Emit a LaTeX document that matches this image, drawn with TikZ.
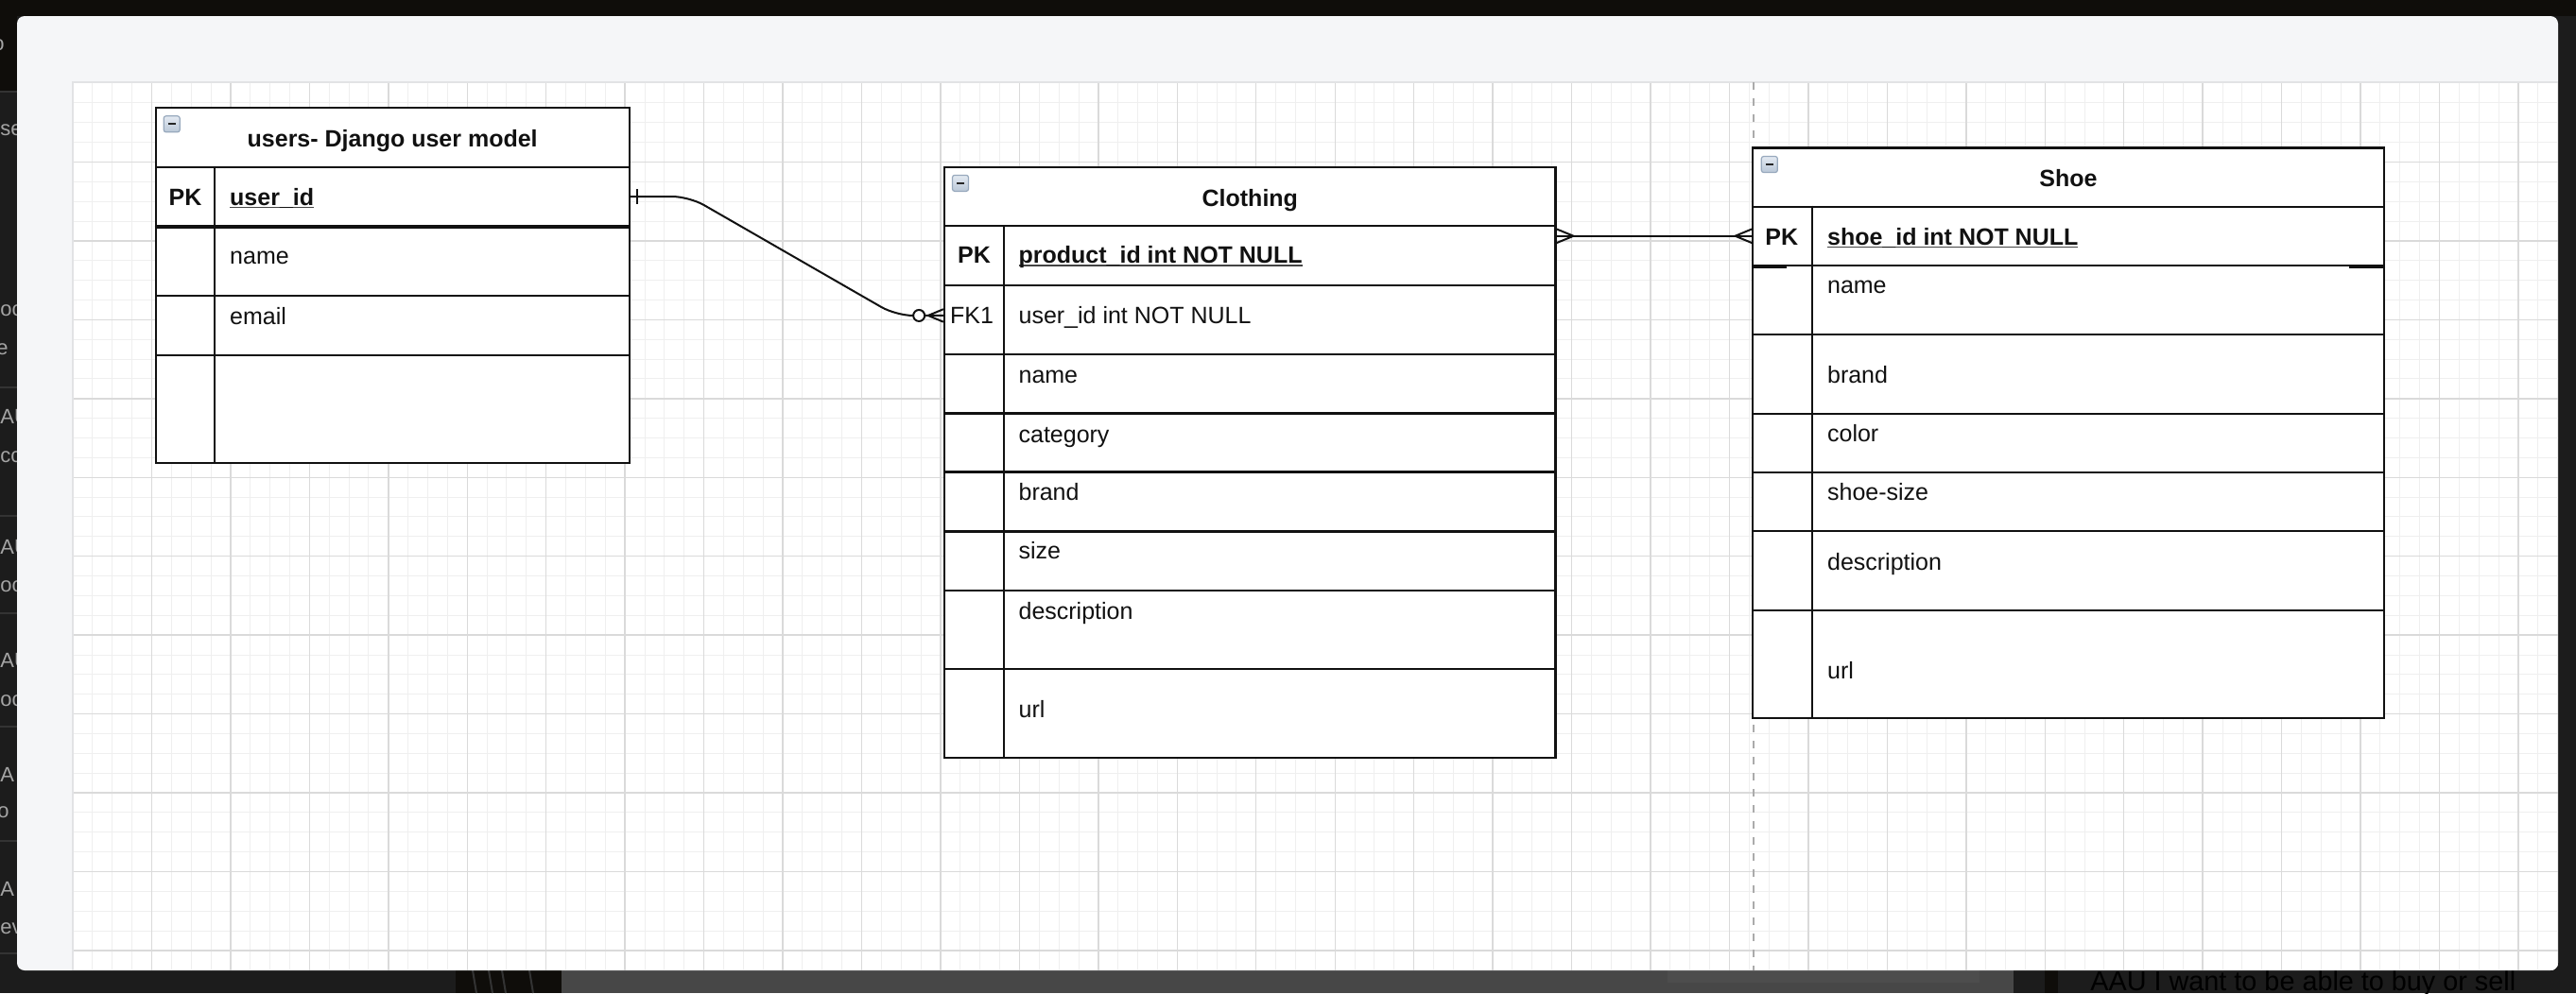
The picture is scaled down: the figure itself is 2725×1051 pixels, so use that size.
\documentclass[tikz,border=0pt]{standalone}
\usepackage{fontspec}
\setmainfont{Liberation Sans}
\usetikzlibrary{fit}
\definecolor{topdark}{HTML}{0F0D0A}
\definecolor{sidedark}{HTML}{1C1C1C}
\definecolor{sepgray}{HTML}{333333}
\definecolor{panelbg}{HTML}{F5F6F8}
\definecolor{gridmaj}{HTML}{DADADA}
\definecolor{gridmin}{HTML}{EFEFEF}
\definecolor{gridedgec}{HTML}{E2E3E5}
\definecolor{bargray}{HTML}{474747}
\definecolor{barlight}{HTML}{4D4D4D}
\definecolor{fragtxt}{HTML}{A4A4A4}
\definecolor{iconedge}{HTML}{98A9BD}
\definecolor{icontop}{HTML}{E4EAF2}
\definecolor{iconbot}{HTML}{B9C7D7}
\definecolor{pagebrk}{HTML}{ABABAB}
\definecolor{inkc}{HTML}{111111}
\definecolor{ulgray}{HTML}{444444}
\newcommand{\fs}{\fontsize{12.5}{15}\selectfont}
\newcommand{\ulbox}[1]{\setbox0\hbox{#1}\rlap{\textcolor{ulgray}{\rule[-1.6pt]{\wd0}{0.75pt}}}\box0}
\newcommand{\erow}[5]{\node[tblrow, fit={(#2,#3) (#4,#5)}] (#1) {};}
\tikzset{
  tblrow/.style={draw=inkc, line width=1.15pt, fill=white, inner sep=0pt},
  tblline/.style={draw=inkc, line width=1.15pt},
  thickmark/.style={draw=inkc, line width=1.7pt},
  ttl/.style={anchor=base, inner sep=0pt, font=\fs\bfseries, text=inkc},
  keyt/.style={anchor=base, inner sep=0pt, font=\fs\bfseries, text=inkc},
  fkt/.style={anchor=base, inner sep=0pt, font=\fs, text=inkc},
  fld/.style={anchor=base west, inner sep=0pt, font=\fs, text=inkc},
  fldb/.style={anchor=base west, inner sep=0pt, font=\fs\bfseries, text=inkc},
  conn/.style={draw=inkc, line width=1pt},
  gridminor/.style={draw=gridmin, line width=0.5pt},
  gridmajor/.style={draw=gridmaj, line width=0.7pt},
  gridedge/.style={draw=gridedgec, line width=0.8pt},
  pagebreak/.style={draw=pagebrk, line width=0.75pt, dash pattern=on 4pt off 4.5pt},
  sepline/.style={draw=sepgray, line width=0.6pt},
  frag/.style={anchor=base west, inner sep=0pt, font=\fontsize{11}{13}\selectfont, text=fragtxt},
  story/.style={anchor=base west, inner sep=0pt, font=\fontsize{14.4}{17}\selectfont, text=black},
  colicon/.pic={
    \draw[draw=iconedge, line width=0.6pt, rounded corners=1.2pt, top color=icontop, bottom color=iconbot] (0,0) rectangle (17,17);
    \draw[draw=black!85, line width=1pt] (4.5,8.5) -- (12.5,8.5);
  }
}
\begin{document}
\begin{tikzpicture}[x=0.5pt,y=-0.5pt]
\clip (0,0) rectangle (2725,1051);
% ---------- surrounding screenshot background ----------
\fill[sidedark] (0,0) rectangle (2725,1051);
\fill[topdark] (0,0) rectangle (2725,17);
\fill[topdark] (0,0) rectangle (18,97);
\foreach \yy in {97,410,546,649,769,890,1009} \draw[sepline] (0,\yy) -- (18,\yy);
\node[frag] (f0) at (-8,53) {o};
\node[frag] (f1) at (0,143) {se};
\node[frag] (f2) at (0,334) {oc};
\node[frag] (f3) at (-4,375) {e};
\node[frag] (f4) at (0,448) {AU};
\node[frag] (f5) at (0,489) {cc};
\node[frag] (f6) at (0,586) {AU};
\node[frag] (f7) at (0,626) {oc};
\node[frag] (f8) at (0,706) {AU};
\node[frag] (f9) at (0,747) {oc};
\node[frag] (f10) at (0,827) {A I};
\node[frag] (f11) at (-3,865) {o};
\node[frag] (f12) at (0,948) {A I};
\node[frag] (f13) at (0,988) {ev};
% bottom strip
\fill[topdark] (482,1027) rectangle (594,1051);
\foreach \xx in {500,517,531,560} \draw[draw=sepgray, line width=1pt] (\xx,1027) -- (\xx+4,1051);
\fill[bargray] (594,1027) rectangle (2130,1051);
\fill[barlight] (1764,1027) rectangle (2094,1040);
\fill[topdark] (2163,1027) rectangle (2177,1051);
\node[story] (storytext) at (2211,1048) {AAU I want to be able to buy or sell};
% ---------- panel ----------
\fill[panelbg, rounded corners=4pt] (18,17) rectangle (2706,1027);
\begin{scope}
  \clip[rounded corners=4pt] (18,17) rectangle (2706,1027);
  \fill[white] (77,87) rectangle (2706,1027);
  \foreach \i in {1,...,126} \draw[gridminor] (77+\i*20.8625,87) -- (77+\i*20.8625,1027);
  \foreach \j in {1,...,45} \draw[gridminor] (77,88+\j*20.8625) -- (2706,88+\j*20.8625);
  \foreach \i in {1,...,31} \draw[gridmajor] (77+\i*83.45,87) -- (77+\i*83.45,1027);
  \foreach \j in {1,...,11} \draw[gridmajor] (77,88+\j*83.45) -- (2706,88+\j*83.45);
  \draw[gridedge] (77,1027) -- (77,87) -- (2706,87);
  \draw[pagebreak] (1855,87) -- (1855,1027);
\end{scope}
% ---------- users table ----------
\erow{uhead}{164.7}{114.3}{665.8}{176.7}
\erow{upk}{164.7}{176.7}{665.8}{239.3}
\erow{uname}{164.7}{239.3}{665.8}{312.7}
\erow{uemail}{164.7}{312.7}{665.8}{375.7}
\erow{uempty}{164.7}{375.7}{665.8}{490}
\draw[tblline] (upk.north west -| 227.3,0) -- (uempty.south west -| 227.3,0);
\draw[thickmark] (upk.south west) -- (upk.south east);
\pic at (173.2,122.8) {colicon};
\node[ttl] (uttl) at (415.2,155.7) {users- Django user model};
\node[keyt] (upkl) at (196,217) {PK};
\node[fldb] (upkf) at (242.8,217) {\ulbox{user\_id}};
\node[fld] (unmf) at (242.8,279.7) {name};
\node[fld] (uemf) at (242.8,343) {email};
% ---------- clothing table ----------
\erow{chead}{999}{176.9}{1645.6}{239.3}
\erow{cpk}{999}{239.3}{1645.6}{301.8}
\erow{cfk}{999}{301.8}{1645.6}{375.1}
\erow{cname}{999}{375.1}{1645.6}{437.5}
\erow{ccat}{999}{437.5}{1645.6}{499.6}
\erow{cbrand}{999}{499.6}{1645.6}{562.5}
\erow{csize}{999}{562.5}{1645.6}{625.3}
\erow{cdesc}{999}{625.3}{1645.6}{708.2}
\erow{curl}{999}{708.2}{1645.6}{801.9}
\draw[tblline] (cpk.north west -| 1062.1,0) -- (curl.south west -| 1062.1,0);
\pic at (1007.5,185.4) {colicon};
\node[ttl] (cttl) at (1322.3,218.4) {Clothing};
\node[keyt] (cpkl) at (1030.5,278.6) {PK};
\node[fldb] (cpkf) at (1077.2,278.6) {\ulbox{product\_id int NOT NULL}};
\node[fkt] (cfkl) at (1028,342.3) {FK1};
\node[fld] (cfkf) at (1077.2,342.3) {user\_id int NOT NULL};
\node[fld] (cnmf) at (1077.2,405.2) {name};
\node[fld] (ccatf) at (1077.2,468) {category};
\node[fld] (cbrf) at (1077.2,529.7) {brand};
\node[fld] (csizf) at (1077.2,591.7) {size};
\node[fld] (cdesf) at (1077.2,655.5) {description};
\node[fld] (curlf) at (1077.2,759.5) {url};
% ---------- shoe table ----------
\erow{shead}{1854.3}{156.5}{2522}{218.8}
\erow{spk}{1854.3}{218.8}{2522}{280.7}
\erow{sname}{1854.3}{280.7}{2522}{353.9}
\erow{sbrand}{1854.3}{353.9}{2522}{437.7}
\erow{scolor}{1854.3}{437.7}{2522}{500}
\erow{ssize}{1854.3}{500}{2522}{562.3}
\erow{sdesc}{1854.3}{562.3}{2522}{646}
\erow{surl}{1854.3}{646}{2522}{760.1}
\draw[tblline] (spk.north west -| 1916.8,0) -- (surl.south west -| 1916.8,0);
\draw[thickmark] (spk.south west) -- ++(37,0);
\draw[thickmark] (spk.south east) -- ++(-38,0);
\pic at (1863.3,165.5) {colicon};
\node[ttl] (sttl) at (2188,197) {Shoe};
\node[keyt] (spkl) at (1884.7,259.2) {PK};
\node[fldb] (spkf) at (1932.7,259.2) {\ulbox{shoe\_id int NOT NULL}};
\node[fld] (snmf) at (1932.7,310.6) {name};
\node[fld] (sbrf) at (1932.7,405.3) {brand};
\node[fld] (scolf) at (1932.7,467.6) {color};
\node[fld] (ssizf) at (1932.7,529.4) {shoe-size};
\node[fld] (sdesf) at (1932.7,603.1) {description};
\node[fld] (surlf) at (1932.7,718) {url};
% ---------- connector users -> clothing (one to zero-or-many) ----------
\coordinate (cfkend) at ([yshift=2.25pt]cfk.west);
\coordinate (bendA) at (729,208);
\coordinate (bendB) at (948,334);
\draw[conn, rounded corners=9pt] (upk.east) -- (bendA) -- (bendB) -- (cfkend);
\draw[conn] ([xshift=3.75pt]upk.east) ++(0,-8) -- ++(0,16);
\draw[conn] ([yshift=3.35pt]cfkend) -- ++(-16,6.7) -- ([yshift=-3.35pt]cfkend);
\draw[conn, fill=white] ([xshift=-12.85pt]cfkend) circle[radius=3pt];
% ---------- connector clothing <-> shoe (many to many) ----------
\coordinate (cpkend) at (spk.west -| cpk.east);
\draw[conn] (spk.west) -- (cpkend);
\draw[conn] ([yshift=3.65pt]cpkend) -- ++(17.7,7.3) -- ([yshift=-3.65pt]cpkend);
\draw[conn] ([yshift=3.65pt]spk.west) -- ++(-17.6,7.3) -- ([yshift=-3.65pt]spk.west);
\end{tikzpicture}
\end{document}
